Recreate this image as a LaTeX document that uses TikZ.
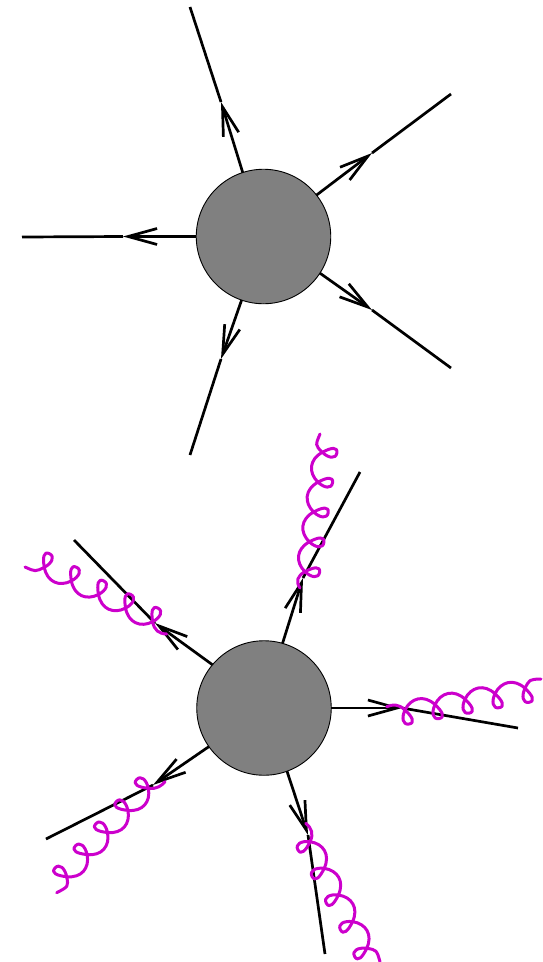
\documentclass[tikz,border=0pt]{standalone}
\usetikzlibrary{arrows.meta}
\definecolor{gluoncol}{HTML}{CC00CC}
\tikzset{
  blob/.style={circle,draw=black,line width=0.9pt,fill=black!50,minimum size=134.5pt,inner sep=0pt,outer sep=0pt},
  fermion/.style={line width=2.7pt,black},
  headed/.style={fermion,-{Straight Barb[length=29pt,width=16pt]}},
  gluonline/.style={line width=3pt,gluoncol,line cap=round,line join=round}
}
\newcommand{\gluon}[8]{%
  \pgfmathsetmacro\gDx{(#3-#1)/4}%
  \pgfmathsetmacro\gDy{(#4-#2)/4}%
  \pgfmathsetmacro\gP{veclen(\gDx,\gDy)}%
  \pgfmathsetmacro\gUx{\gDx/\gP}%
  \pgfmathsetmacro\gUy{\gDy/\gP}%
  \coordinate (gs) at (#5,#6);
  \coordinate (gt) at (#7,#8);
  \begin{scope}[shift={(#1,#2)},x={(\gUx pt,-\gUy pt)},y={(\gUy pt,\gUx pt)}]
    \draw[gluonline] (gs) .. controls (-6,-8) .. (0,0)
      \foreach \k in {0,1,2,3} {
        .. controls (\k*\gP+5,7) and (\k*\gP+5,14.5) .. (\k*\gP-1.5,14.5)
        .. controls (\k*\gP-8,14.5) and (\k*\gP-6,8) .. (\k*\gP,0)
        .. controls (\k*\gP+9,-12) and (\k*\gP+\gP-8,-11) .. (\k*\gP+\gP,0)
      }
      .. controls (4*\gP+5,7) and (4*\gP+5,14.5) .. (4*\gP-1.5,14.5)
      .. controls (4*\gP-8,14.5) and (4*\gP-6,8) .. (4*\gP,0)
      .. controls (4*\gP+5,-7) and (4*\gP+11,-8) .. (gt);
  \end{scope}
}
\begin{document}
\begin{tikzpicture}[x=1pt,y=-1pt]
\useasboundingbox (0,0) rectangle (542,962);
% upper blob
\node[blob] (b1) at (263.5,236.5) {};
\coordinate (a1) at (221,102);   \coordinate (e1) at (190,7);
\coordinate (a2) at (372,153);   \coordinate (e2) at (451,94);
\coordinate (a3) at (123,236.5); \coordinate (e3) at (22,237);
\coordinate (a4) at (372,310);   \coordinate (e4) at (451,368);
\coordinate (a5) at (221,359);   \coordinate (e5) at (190,455);
\draw[headed] (b1.108) -- (a1); \draw[fermion] (a1) -- (e1);
\draw[headed] (b1.38) -- (a2);  \draw[fermion] (a2) -- (e2);
\draw[headed] (b1.180) -- (a3); \draw[fermion] (a3) -- (e3);
\draw[headed] (b1.-33) -- (a4); \draw[fermion] (a4) -- (e4);
\draw[headed] (b1.-109) -- (a5);\draw[fermion] (a5) -- (e5);
% lower blob
\node[blob] (b2) at (264,708) {};
\coordinate (c1) at (303,578);  \coordinate (f1) at (360,472);
\coordinate (c2) at (155,623);  \coordinate (f2) at (74,540);
\coordinate (c3) at (402,708);  \coordinate (f3) at (518,728);
\coordinate (c4) at (153,785);  \coordinate (f4) at (46,839);
\coordinate (c5) at (308,835);  \coordinate (f5) at (325,954);
\draw[headed] (b2.74.5) -- (c1); \draw[fermion] (c1) -- (f1);
\draw[headed] (b2.140.4) -- (c2);\draw[fermion] (c2) -- (f2);
\draw[headed] (b2.0) -- (c3);    \draw[fermion] (c3) -- (f3);
\draw[headed] (b2.-145) -- (c4); \draw[fermion] (c4) -- (f4);
\draw[headed] (b2.-70) -- (c5);  \draw[fermion] (c5) -- (f5);
% gluons
\gluon{322.3}{452.3}{305}{571.7}{320}{434}{300}{588}
\gluon{44.3}{567.3}{152.7}{621.7}{25}{567}{166.7}{634}
\gluon{525}{688.3}{405}{710}{541}{679}{386.7}{706.7}
\gluon{66.7}{876.7}{148.3}{788.3}{56.7}{892.7}{165}{781.7}
\gluon{366.7}{948.3}{310}{841.7}{380}{961.7}{305.7}{823.3}
\end{tikzpicture}
\end{document}
